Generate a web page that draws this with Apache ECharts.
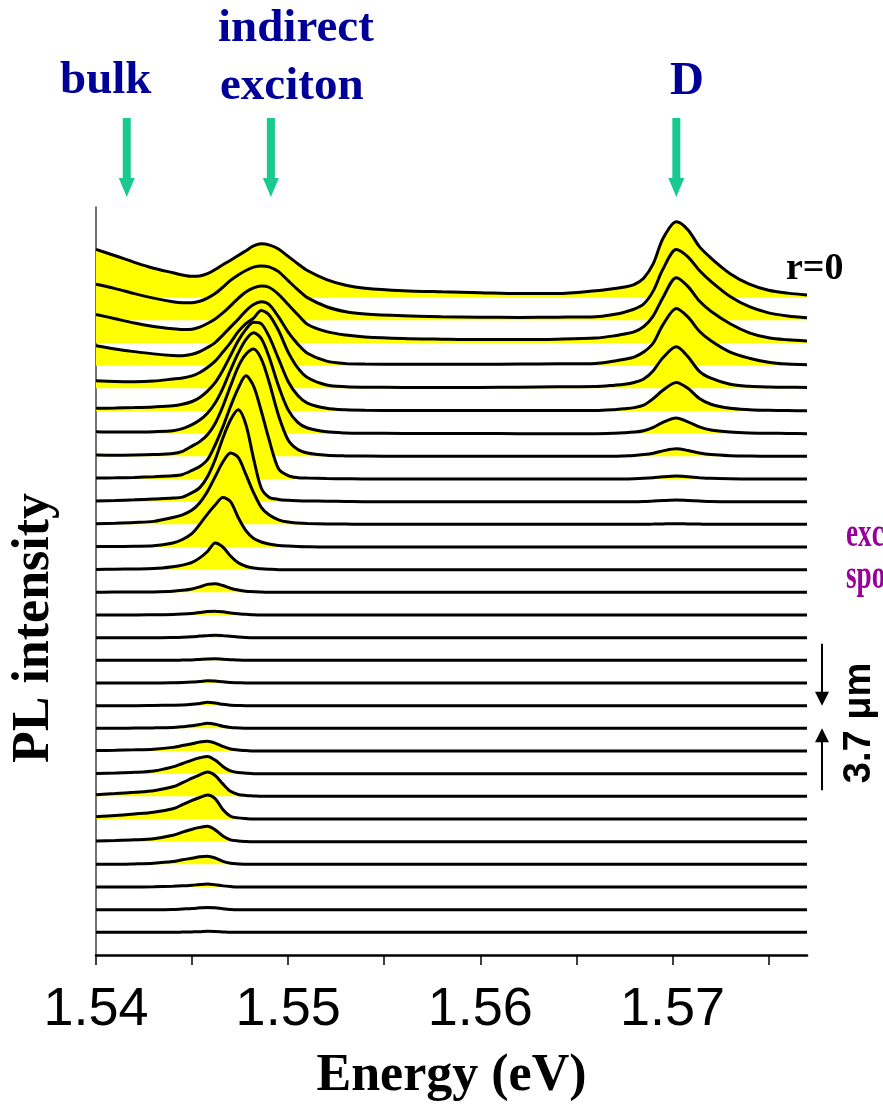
<!DOCTYPE html>
<html>
<head>
<meta charset="utf-8">
<title>PL spectra vs distance</title>
<script src="https://cdn.jsdelivr.net/npm/echarts@6/dist/echarts.min.js"></script>
<style>
  html, body { margin: 0; padding: 0; background: #fff; }
  #chart { width: 883px; height: 1108px; }
</style>
</head>
<body>
<div id="chart"></div>
<script>
// photon energy (eV), shared by all spectra
const energy = [1.540, 1.541, 1.542, 1.543, 1.544, 1.5445, 1.545, 1.5454, 1.5458, 1.5462, 1.5466, 1.547, 1.5474, 1.5478, 1.5482, 1.5486, 1.549, 1.5495, 1.550, 1.5505, 1.551, 1.552, 1.553, 1.554, 1.556, 1.558, 1.560, 1.562, 1.564,
  1.566, 1.567, 1.5675, 1.568, 1.5685, 1.569, 1.5695, 1.5702, 1.5708, 1.5714, 1.572, 1.573, 1.574, 1.575, 1.576, 1.577];

// PL intensity of each spectrum (one trace spacing = 1), from r=0 (top) down
const pl00 = [2.13,1.85,1.56,1.3,1.1,1.0,0.94,0.96,1.06,1.24,1.45,1.65,1.86,2.07,2.28,2.38,2.33,2.15,1.82,1.5,1.2,0.8,0.55,0.42,0.31,0.26,0.22,0.18,0.18, 0.3,0.4,0.47,0.58,0.86,1.5,2.6,3.35,3.0,2.25,1.75,1.06,0.6,0.33,0.2,0.12];
const pl01 = [1.59,1.4,1.18,0.98,0.82,0.78,0.78,0.84,0.98,1.18,1.46,1.76,2.0,2.2,2.35,2.4,2.36,2.15,1.75,1.35,1.0,0.6,0.38,0.28,0.2,0.16,0.14,0.13,0.14, 0.16,0.27,0.36,0.49,0.72,1.3,2.25,3.12,2.8,2.2,1.72,1.05,0.6,0.33,0.19,0.11];
const pl02 = [1.26,1.07,0.88,0.73,0.63,0.6,0.61,0.7,0.86,1.06,1.33,1.64,1.97,2.25,2.43,2.51,2.46,2.15,1.7,1.25,0.83,0.5,0.35,0.27,0.2,0.17,0.15,0.15,0.17, 0.22,0.32,0.4,0.49,0.72,1.2,2.0,2.88,2.5,1.85,1.4,0.85,0.45,0.23,0.14,0.09];
const pl03 = [0.88,0.74,0.62,0.52,0.45,0.44,0.5,0.62,0.8,1.02,1.35,1.7,2.05,2.42,2.7,2.82,2.7,2.15,1.48,0.95,0.55,0.2,0.09,0.07,0.06,0.06,0.06,0.07,0.08, 0.1,0.21,0.28,0.38,0.6,1.0,1.8,2.52,2.15,1.52,1.1,0.6,0.33,0.15,0.07,0.04];
const pl04 = [0.33,0.3,0.29,0.32,0.41,0.46,0.55,0.7,0.92,1.2,1.6,2.02,2.5,2.85,3.1,3.43,3.25,2.55,1.6,0.9,0.48,0.15,0.07,0.05,0.04,0.04,0.04,0.05,0.07, 0.08,0.14,0.18,0.26,0.41,0.78,1.35,1.83,1.4,0.75,0.45,0.18,0.09,0.06,0.05,0.04];
const pl05 = [0.12,0.13,0.15,0.18,0.23,0.3,0.42,0.6,0.88,1.25,1.8,2.45,3.1,3.6,3.92,3.85,3.3,2.3,1.3,0.68,0.35,0.12,0.05,0.03,0.02,0.02,0.02,0.02,0.02, 0.02,0.06,0.1,0.15,0.26,0.55,0.92,1.26,1.0,0.55,0.3,0.12,0.06,0.03,0.02,0.01];
const pl06 = [0.09,0.07,0.07,0.09,0.13,0.22,0.4,0.6,0.9,1.35,2.0,2.8,3.55,4.15,4.45,4.2,3.4,2.1,1.05,0.5,0.25,0.08,0.03,0.02,0.01,0.01,0.01,0,0, 0,0.02,0.04,0.07,0.13,0.28,0.5,0.69,0.52,0.3,0.16,0.07,0.03,0.02,0.01,0];
const pl07 = [0.06,0.05,0.06,0.08,0.12,0.22,0.45,0.65,0.95,1.45,2.2,3.1,3.95,4.5,4.73,4.3,3.3,1.8,0.72,0.3,0.15,0.05,0.02,0.01,0,0,0,0,0, 0,0,0.02,0.04,0.08,0.14,0.24,0.33,0.26,0.15,0.08,0.03,0.01,0,0,0];
const pl08 = [0.04,0.05,0.07,0.1,0.14,0.2,0.38,0.55,0.85,1.5,2.3,3.2,4.0,4.55,4.1,3.0,1.76,0.45,0.15,0.06,0.04,0.02,0.01,0,0,0,0,0,0, 0,0,0,0.01,0.03,0.06,0.1,0.13,0.1,0.06,0.03,0.01,0,0,0,0];
const pl09 = [0.03,0.05,0.08,0.12,0.16,0.2,0.4,0.62,1.1,1.85,2.8,3.6,4.05,3.4,1.9,0.6,0.2,0.1,0.06,0.04,0.03,0.02,0.01,0,0,0,0,0,0, 0,0,0,0,0.01,0.03,0.05,0.07,0.05,0.03,0.01,0,0,0,0,0];
const pl10 = [0.03,0.05,0.08,0.13,0.3,0.42,0.63,0.95,1.45,2.1,2.75,3.15,2.95,2.2,1.4,0.75,0.42,0.2,0.1,0.06,0.04,0.02,0.01,0,0,0,0,0,0, 0,0,0,0,0,0.01,0.02,0.03,0.02,0.01,0,0,0,0,0,0];
const pl11 = [0.02,0.02,0.03,0.05,0.18,0.33,0.6,1.0,1.45,1.85,2.18,2.0,1.3,0.72,0.38,0.22,0.13,0.07,0.04,0.02,0.01,0,0,0,0,0,0,0,0, 0,0,0,0,0,0,0,0,0,0,0,0,0,0,0,0];
const pl12 = [0.01,0.02,0.03,0.05,0.13,0.2,0.32,0.52,0.8,1.18,1.0,0.6,0.3,0.15,0.07,0.04,0.02,0,0,0,0,0,0,0,0,0,0,0,0, 0,0,0,0,0,0,0,0,0,0,0,0,0,0,0,0];
const pl13 = [0,0.01,0.01,0.02,0.05,0.09,0.15,0.24,0.35,0.38,0.3,0.18,0.1,0.05,0.03,0.01,0,0,0,0,0,0,0,0,0,0,0,0,0, 0,0,0,0,0,0,0,0,0,0,0,0,0,0,0,0];
const pl14 = [0,0,0,0.01,0.02,0.04,0.07,0.11,0.15,0.17,0.14,0.09,0.05,0.03,0.01,0,0,0,0,0,0,0,0,0,0,0,0,0,0, 0,0,0,0,0,0,0,0,0,0,0,0,0,0,0,0];
const pl15 = [0,0,0,0,0.01,0.02,0.04,0.07,0.09,0.11,0.09,0.06,0.03,0.01,0,0,0,0,0,0,0,0,0,0,0,0,0,0,0, 0,0,0,0,0,0,0,0,0,0,0,0,0,0,0,0];
const pl16 = [0,0,0,0,0,0.01,0.02,0.04,0.06,0.07,0.05,0.03,0.01,0,0,0,0,0,0,0,0,0,0,0,0,0,0,0,0, 0,0,0,0,0,0,0,0,0,0,0,0,0,0,0,0];
const pl17 = [0,0,0,0,0.01,0.02,0.04,0.07,0.1,0.09,0.05,0.02,0.01,0,0,0,0,0,0,0,0,0,0,0,0,0,0,0,0, 0,0,0,0,0,0,0,0,0,0,0,0,0,0,0,0];
const pl18 = [0,0,0,0.01,0.02,0.03,0.06,0.1,0.15,0.12,0.06,0.02,0.01,0,0,0,0,0,0,0,0,0,0,0,0,0,0,0,0, 0,0,0,0,0,0,0,0,0,0,0,0,0,0,0,0];
const pl19 = [0,0,0.01,0.02,0.04,0.07,0.11,0.17,0.22,0.18,0.09,0.04,0.02,0,0,0,0,0,0,0,0,0,0,0,0,0,0,0,0, 0,0,0,0,0,0,0,0,0,0,0,0,0,0,0,0];
const pl20 = [0.02,0.03,0.05,0.08,0.16,0.24,0.32,0.4,0.43,0.35,0.2,0.09,0.04,0.02,0,0,0,0,0,0,0,0,0,0,0,0,0,0,0, 0,0,0,0,0,0,0,0,0,0,0,0,0,0,0,0];
const pl21 = [0.01,0.03,0.06,0.12,0.3,0.45,0.6,0.7,0.76,0.6,0.32,0.12,0.05,0.02,0,0,0,0,0,0,0,0,0,0,0,0,0,0,0, 0,0,0,0,0,0,0,0,0,0,0,0,0,0,0,0];
const pl22 = [0.07,0.12,0.18,0.25,0.42,0.6,0.8,0.95,1.07,0.92,0.55,0.22,0.08,0.04,0.02,0,0,0,0,0,0,0,0,0,0,0,0,0,0, 0,0,0,0,0,0,0,0,0,0,0,0,0,0,0,0];
const pl23 = [0.1,0.15,0.22,0.3,0.45,0.63,0.82,0.95,1.06,0.9,0.42,0.12,0.05,0.02,0,0,0,0,0,0,0,0,0,0,0,0,0,0,0, 0,0,0,0,0,0,0,0,0,0,0,0,0,0,0,0];
const pl24 = [0.03,0.05,0.08,0.13,0.28,0.42,0.55,0.63,0.68,0.52,0.25,0.08,0.03,0.01,0,0,0,0,0,0,0,0,0,0,0,0,0,0,0, 0,0,0,0,0,0,0,0,0,0,0,0,0,0,0,0];
const pl25 = [0,0,0.02,0.05,0.12,0.2,0.27,0.33,0.36,0.28,0.13,0.05,0.02,0,0,0,0,0,0,0,0,0,0,0,0,0,0,0,0, 0,0,0,0,0,0,0,0,0,0,0,0,0,0,0,0];
const pl26 = [0,0,0,0.01,0.03,0.05,0.08,0.11,0.13,0.1,0.05,0.02,0,0,0,0,0,0,0,0,0,0,0,0,0,0,0,0,0, 0,0,0,0,0,0,0,0,0,0,0,0,0,0,0,0];
const pl27 = [0,0,0,0,0.01,0.03,0.05,0.08,0.1,0.08,0.04,0.01,0,0,0,0,0,0,0,0,0,0,0,0,0,0,0,0,0, 0,0,0,0,0,0,0,0,0,0,0,0,0,0,0,0];
const pl28 = [0,0,0,0,0,0.01,0.02,0.03,0.05,0.04,0.02,0,0,0,0,0,0,0,0,0,0,0,0,0,0,0,0,0,0, 0,0,0,0,0,0,0,0,0,0,0,0,0,0,0,0];

const spectra = [pl00, pl01, pl02, pl03, pl04, pl05, pl06, pl07, pl08, pl09, pl10, pl11, pl12, pl13, pl14,
  pl15, pl16, pl17, pl18, pl19, pl20, pl21, pl22, pl23, pl24, pl25, pl26, pl27, pl28];

// x axis
const tickValues = [1.54, 1.545, 1.55, 1.555, 1.56, 1.565, 1.57, 1.575];
const labelValues = [1.54, 1.55, 1.56, 1.57];
// marked lines (eV)
const markEnergy = { bulk: 1.5416, indirect: 1.5491, D: 1.5702 };

const serif = '"Liberation Serif", "Times New Roman", serif';
const sans = '"Liberation Sans", Arial, sans-serif';

let chart = echarts.init(document.getElementById('chart'));

const topIndex = spectra.length - 1;
let fills = [];
let lines = [];
spectra.forEach((row, i) => {
  if (row.length !== energy.length) throw new Error('spectrum ' + i + ' has ' + row.length + ' points');
  let base = topIndex - i;
  let data = energy.map((e, j) => [e, base + row[j]]);
  fills.push({
    type: 'line', data: data, smooth: 0.3, symbol: 'none', silent: true, z: 2,
    lineStyle: { width: 0 },
    areaStyle: { color: '#ffff00', opacity: 1, origin: base }
  });
  lines.push({
    type: 'line', data: data, smooth: 0.3, symbol: 'none', silent: true, z: 3,
    lineStyle: { color: '#000', width: 3 }
  });
});

chart.setOption({
  animation: false,
  backgroundColor: '#fff',
  grid: { left: 96, right: 76, top: 207, bottom: 151 },
  xAxis: {
    type: 'value', min: 1.54, max: 1.577, interval: 0.01,
    axisLine: { onZero: false, lineStyle: { color: '#000', width: 2.5 } },
    axisTick: { customValues: tickValues, length: 10, lineStyle: { color: '#000', width: 1.5 } },
    axisLabel: {
      customValues: labelValues, margin: 28, color: '#000', fontFamily: sans, fontSize: 54,
      formatter: v => v.toFixed(2)
    },
    splitLine: { show: false },
    name: 'Energy (eV)', nameLocation: 'middle', nameGap: 96,
    nameTextStyle: { fontFamily: serif, fontWeight: 'bold', fontSize: 52, color: '#000' }
  },
  yAxis: {
    type: 'value', min: -1, max: 32,
    axisLine: { show: true, onZero: false, lineStyle: { color: '#444', width: 1.5 } },
    axisTick: { show: false },
    axisLabel: { show: false },
    splitLine: { show: false }
  },
  series: fills.concat(lines)
});

// annotations
function arrow(x, y0, y1, shaftW, headW, headL, color) {
  let dir = y1 > y0 ? 1 : -1;
  let yh = y1 - dir * headL;
  return {
    type: 'polygon', silent: true, z: 10,
    shape: { points: [[x - shaftW / 2, y0], [x + shaftW / 2, y0], [x + shaftW / 2, yh], [x + headW / 2, yh], [x, y1], [x - headW / 2, yh], [x - shaftW / 2, yh]] },
    style: { fill: color }
  };
}
function label(text, x, y, font, color, align, rot, sx) {
  return {
    type: 'text', x: x, y: y, rotation: rot || 0, scaleX: sx || 1, silent: true, z: 10,
    style: { text: text, font: font, fill: color, align: align, verticalAlign: 'middle', textAlign: align, textVerticalAlign: 'middle' }
  };
}

const toPx = (e, v) => chart.convertToPixel({ xAxisIndex: 0, yAxisIndex: 0 }, [e, v]);
const green = '#19c98f';
const navy = '#000099';
const xb = toPx(markEnergy.bulk, 0)[0];
const xi = toPx(markEnergy.indirect, 0)[0];
const xd = toPx(markEnergy.D, 0)[0];
// spacing marker between two neighbouring spectra
const yA = toPx(1.577, topIndex - 18)[1];
const yB = toPx(1.577, topIndex - 19)[1];

chart.setOption({
  graphic: [
    arrow(xb, 118, 197, 8, 16, 19, green),
    arrow(xi, 118, 197, 8, 16, 19, green),
    arrow(xd, 118, 197, 8, 16, 19, green),
    label('bulk', 60, 81, 'bold 47px ' + serif, navy, 'left'),
    label('indirect', 218, 29, 'bold 47px ' + serif, navy, 'left'),
    label('exciton', 220, 87, 'bold 47px ' + serif, navy, 'left'),
    label('D', 687, 82, 'bold 47px ' + serif, navy, 'center'),
    label('r=0', 786, 269, 'bold 38px ' + serif, '#000', 'left'),
    label('excitation', 846, 536, 'bold 40px ' + serif, '#990099', 'left', 0, 0.68),
    label('spot', 846, 578, 'bold 40px ' + serif, '#990099', 'left', 0, 0.68),
    label('PL intensity', 35, 628, 'bold 52px ' + serif, '#000', 'center', Math.PI / 2),
    label('3.7 μm', 860, 723, 'bold 38px ' + sans, '#000', 'center', Math.PI / 2),
    arrow(822, yA - 62, yA, 2, 14, 14, '#000'),
    arrow(822, yB + 62, yB, 2, 14, 14, '#000')
  ]
});
</script>
</body>
</html>
